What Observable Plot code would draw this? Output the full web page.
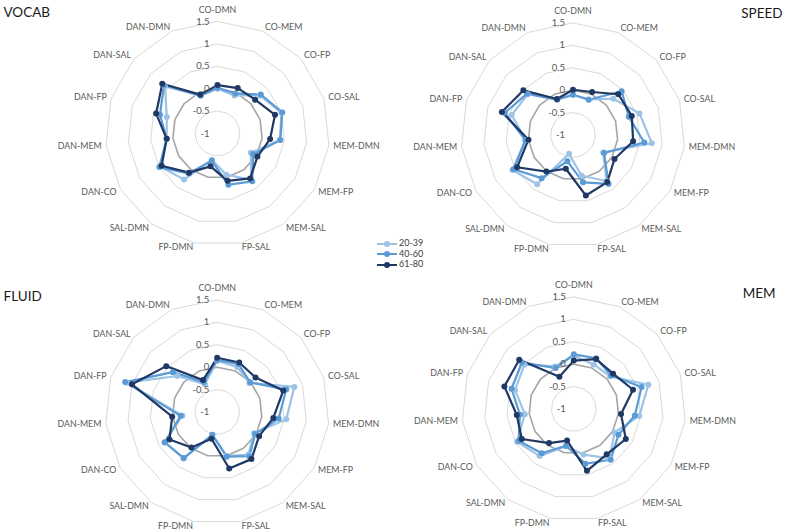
<!DOCTYPE html>
<html>
<head>
<meta charset="utf-8">
<script src="https://cdn.jsdelivr.net/npm/d3@7"></script>
<script src="https://cdn.jsdelivr.net/npm/@observablehq/plot@0.6"></script>
<style>
  html, body { margin: 0; padding: 0; background: #ffffff; }
  #root { position: relative; width: 790px; height: 531px; overflow: hidden; font-family: Lato, "Open Sans", sans-serif; }
  .panel { position: absolute; }
  .panel svg { overflow: visible; }
  .legend { position: absolute; left: 377px; top: 238px; font-size: 9px; color: #404040; }
  .legend .row { position: relative; height: 10.7px; line-height: 10.7px; }
  .legend .ln { position: absolute; left: 0; top: 4.5px; width: 20px; height: 2px; }
  .legend .mk { position: absolute; left: 7px; top: 2.5px; width: 6px; height: 6px; border-radius: 50%; }
  .legend .tx { position: absolute; left: 22px; top: 0; white-space: nowrap; }
</style>
</head>
<body>
<div id="root"></div>
<script>
// ---- data ----
const categories = ["CO-DMN", "CO-MEM", "CO-FP", "CO-SAL", "MEM-DMN", "MEM-FP", "MEM-SAL", "FP-SAL",
                    "FP-DMN", "SAL-DMN", "DAN-CO", "DAN-MEM", "DAN-FP", "DAN-SAL", "DAN-DMN"];
const groups = ["20-39", "40-60", "61-80"];
const groupColors = ["#9DC3E6", "#5B9BD5", "#1F3864"];
const tickValues = [-1, -0.5, 0, 0.5, 1, 1.5];
const gridLevels = [-0.5, 0.5, 1, 1.5];
const zeroLevel = [0];

const vocab_20_39 = [0.00, -0.07, 0.27, 0.50, 0.40, -0.14, 0.28, -0.06, -0.40, 0.27, 0.48, 0.14, 0.19, 0.58, -0.08];
const vocab_40_60 = [0.02, -0.02, 0.30, 0.52, 0.41, -0.08, 0.32, 0.17, -0.38, 0.10, 0.50, 0.14, 0.35, 0.61, -0.07];
const vocab_61_80 = [0.08, 0.11, 0.13, 0.35, 0.18, 0.03, 0.24, 0.08, -0.25, 0.08, 0.44, 0.14, 0.44, 0.66, -0.05];

const speed_20_39 = [-0.10, -0.13, 0.21, 0.56, 0.77, -0.22, 0.27, -0.07, -0.57, 0.36, 0.56, 0.06, 0.44, 0.36, -0.14];
const speed_40_60 = [-0.10, -0.14, 0.46, 0.31, 0.60, -0.20, 0.35, 0.08, -0.40, 0.19, 0.53, 0.07, 0.60, 0.38, -0.13];
const speed_61_80 = [0.01, 0.05, 0.36, 0.38, 0.35, 0.07, 0.30, 0.38, -0.23, 0.01, 0.44, 0.00, 0.67, 0.49, -0.12];

const fluid_20_39 = [0.14, 0.10, -0.03, 0.81, 0.55, -0.05, 0.18, 0.00, -0.48, 0.28, 0.36, -0.22, 1.12, 0.20, -0.32];
const fluid_40_60 = [0.16, 0.17, -0.01, 0.62, 0.38, -0.02, 0.22, 0.02, -0.48, 0.27, 0.35, -0.18, 1.16, 0.33, -0.27];
const fluid_61_80 = [0.21, 0.21, 0.15, 0.55, 0.26, 0.08, 0.30, 0.29, -0.39, -0.02, 0.23, 0.01, 1.00, 0.53, -0.22];

const mem_20_39 = [0.19, 0.09, 0.09, 0.75, 0.47, 0.05, 0.36, 0.04, -0.15, 0.30, 0.46, 0.10, 0.38, 0.48, 0.04];
const mem_40_60 = [0.22, 0.24, 0.12, 0.59, 0.37, 0.15, 0.40, 0.25, -0.16, 0.22, 0.42, 0.21, 0.46, 0.56, 0.00];
const mem_61_80 = [0.08, 0.22, 0.18, 0.39, 0.06, 0.34, 0.25, 0.41, -0.28, -0.06, 0.34, 0.28, 0.63, 0.64, -0.21];

// ---- layout (not data) ----
const rMin = -1;           // value at the centre
const pxPerUnit = 44.8;    // radial pixels per value unit
const labelRadius = 2.6;   // category labels, in value units from centre
const panels = [
  {title: "VOCAB", series: [vocab_20_39, vocab_40_60, vocab_61_80], left: 0,   top: 0,   cx: 217,   cy: 133,   tAnchor: "top-left",  tdx: 3,   tdy: 12},
  {title: "SPEED", series: [speed_20_39, speed_40_60, speed_61_80], left: 395, top: 0,   cx: 177.5, cy: 134.5, tAnchor: "top-right", tdx: -8,  tdy: 13},
  {title: "FLUID", series: [fluid_20_39, fluid_40_60, fluid_61_80], left: 0,   top: 265, cx: 216.7, cy: 146.5, tAnchor: "top-left",  tdx: 3,   tdy: 31},
  {title: "MEM",   series: [mem_20_39, mem_40_60, mem_61_80],       left: 395, top: 265, cx: 178.3, cy: 143.5, tAnchor: "top-right", tdx: -15, tdy: 28}
];
const PW = 395, PH = 266;

const n = categories.length;
const ang = i => i * 2 * Math.PI / n;
const px = (v, i) => (v - rMin) * Math.sin(ang(i));
const py = (v, i) => (v - rMin) * Math.cos(ang(i));

function radar(p) {
  const rows = [];
  groups.forEach((g, gi) => p.series[gi].forEach((v, i) => rows.push({group: g, i, v})));
  const ring = levels => levels.flatMap(l => categories.map((c, i) => ({l, i})));
  const labels = categories.map((c, i) => ({c, i}));
  const lr = labelRadius + rMin;
  const sideRight = labels.filter(d => d.i > 0 && Math.sin(ang(d.i)) > 0);
  const sideLeft = labels.filter(d => Math.sin(ang(d.i)) < 0);
  const topLab = labels.filter(d => d.i === 0);
  const txtFill = "#595959";
  return Plot.plot({
    width: PW, height: PH, margin: 0,
    x: {domain: [-p.cx / pxPerUnit, (PW - p.cx) / pxPerUnit], axis: null},
    y: {domain: [-(PH - p.cy) / pxPerUnit, p.cy / pxPerUnit], axis: null},
    color: {domain: groups, range: groupColors},
    style: {background: "transparent", fontFamily: "Lato, 'Open Sans', sans-serif", overflow: "visible"},
    marks: [
      Plot.line(ring(gridLevels), {x: d => px(d.l, d.i), y: d => py(d.l, d.i), z: "l", curve: "linear-closed", stroke: "#D9D9D9", strokeWidth: 1}),
      Plot.line(ring(zeroLevel), {x: d => px(d.l, d.i), y: d => py(d.l, d.i), z: "l", curve: "linear-closed", stroke: "#A6A6A6", strokeWidth: 1.6}),
      Plot.line(rows, {x: d => px(d.v, d.i), y: d => py(d.v, d.i), z: "group", stroke: "group", curve: "linear-closed", strokeWidth: 2.2}),
      Plot.dot(rows, {x: d => px(d.v, d.i), y: d => py(d.v, d.i), fill: "group", r: 3, stroke: "none"}),
      Plot.text(tickValues, {x: d => 0, y: d => d - rMin, text: d => String(d), textAnchor: "end", dx: -8, fontSize: 9.5, fill: txtFill}),
      Plot.text(topLab, {x: d => px(lr, d.i), y: d => py(lr, d.i), text: "c", textAnchor: "middle", dy: -7, fontSize: 8.8, fill: txtFill}),
      Plot.text(sideRight, {x: d => px(lr, d.i), y: d => py(lr, d.i), text: "c", textAnchor: "start", fontSize: 8.8, fill: txtFill}),
      Plot.text(sideLeft, {x: d => px(lr, d.i), y: d => py(lr, d.i), text: "c", textAnchor: "end", fontSize: 8.8, fill: txtFill}),
      Plot.text([p.title], {frameAnchor: p.tAnchor, text: d => d, dx: p.tdx, dy: p.tdy, lineAnchor: "middle",
        textAnchor: p.tAnchor.endsWith("left") ? "start" : "end", fontSize: 13.5, fill: "#1a1a1a"})
    ]
  });
}

const root = document.getElementById("root");
for (const p of panels) {
  const div = document.createElement("div");
  div.className = "panel";
  div.style.left = p.left + "px";
  div.style.top = p.top + "px";
  div.appendChild(radar(p));
  root.appendChild(div);
}

// legend
const legend = document.createElement("div");
legend.className = "legend";
groups.forEach((g, gi) => {
  const row = document.createElement("div");
  row.className = "row";
  row.innerHTML = `<span class="ln" style="background:${groupColors[gi]}"></span><span class="mk" style="background:${groupColors[gi]}"></span><span class="tx">${g}</span>`;
  legend.appendChild(row);
});
root.appendChild(legend);
</script>
</body>
</html>
